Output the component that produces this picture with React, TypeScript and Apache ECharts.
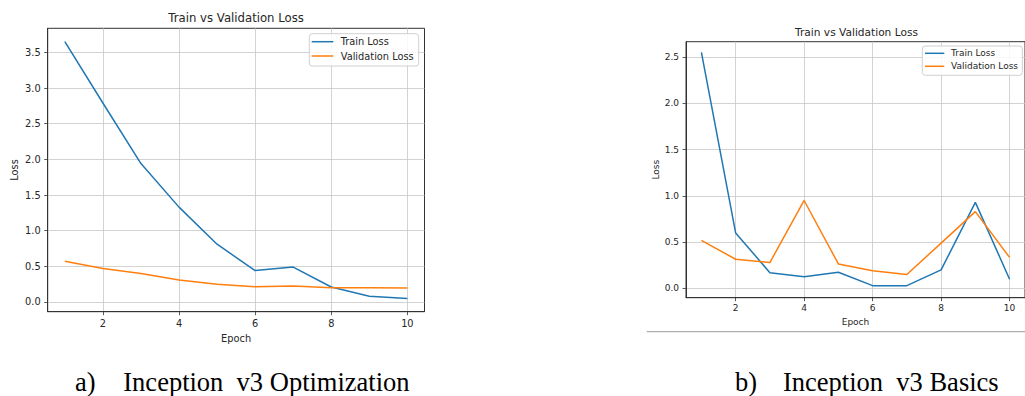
import React, { useEffect, useRef } from "react";
import * as echarts from "echarts";

// ---- data ----
const epochs = [1, 2, 3, 4, 5, 6, 7, 8, 9, 10];
const trainLossA = [3.65, 2.79, 1.94, 1.33, 0.81, 0.44, 0.49, 0.21, 0.08, 0.05];
const valLossA = [0.57, 0.47, 0.4, 0.31, 0.25, 0.215, 0.225, 0.2, 0.2, 0.195];
const trainLossB = [2.55, 0.6, 0.17, 0.125, 0.175, 0.03, 0.03, 0.2, 0.93, 0.1];
const valLossB = [0.52, 0.315, 0.28, 0.95, 0.265, 0.19, 0.15, 0.49, 0.83, 0.335];
const xTicks = [2, 4, 6, 8, 10];
const yTicksA = [0, 0.5, 1, 1.5, 2, 2.5, 3, 3.5];
const yTicksB = [0, 0.5, 1, 1.5, 2, 2.5];
const seriesNames = ["Train Loss", "Validation Loss"];
const chartTitle = "Train vs Validation Loss";
const xName = "Epoch";
const yName = "Loss";
const captionLabels = ["a)", "b)"];
const captionTexts = ["Inception  v3 Optimization", "Inception  v3 Basics"];

const FONT = "DejaVu Sans";
const SERIF = "Liberation Serif";
const TXT = "#262626";
const FRAME = "#333333";
const GRIDC = "#c8c8c8";
const BLUE = "#1f77b4";
const ORANGE = "#ff7f0e";

const pairs = (ys: number[]) => epochs.map((e, i) => [e, ys[i]]);

function xAxisCfg(gridIndex: number, fs: number, margin: number, nameGap: number) {
  return {
    type: "value",
    gridIndex,
    min: 0.55,
    max: 10.45,
    name: xName,
    nameLocation: "middle",
    nameGap,
    nameTextStyle: { fontFamily: FONT, fontSize: fs, color: TXT },
    axisLine: { show: true, onZero: false, lineStyle: { color: FRAME, width: 1 } },
    axisTick: { show: true, length: 3.5, customValues: xTicks, lineStyle: { color: FRAME, width: 0.8 } },
    axisLabel: {
      customValues: xTicks,
      margin,
      fontFamily: FONT,
      fontSize: fs,
      color: TXT,
      formatter: (v: number) => String(v),
    },
    splitLine: { show: true, lineStyle: { color: GRIDC, width: 0.8 } },
  };
}

function yAxisCfg(gridIndex: number, min: number, max: number, ticks: number[], fs: number, margin: number, nameGap: number) {
  return {
    type: "value",
    gridIndex,
    min,
    max,
    name: yName,
    nameLocation: "middle",
    nameGap,
    nameRotate: 90,
    nameTextStyle: { fontFamily: FONT, fontSize: fs, color: TXT },
    axisLine: { show: true, onZero: false, lineStyle: { color: FRAME, width: 1 } },
    axisTick: { show: true, length: 3.5, customValues: ticks, lineStyle: { color: FRAME, width: 0.8 } },
    axisLabel: {
      customValues: ticks,
      margin,
      fontFamily: FONT,
      fontSize: fs,
      color: TXT,
      formatter: (v: number) => v.toFixed(1),
    },
    splitLine: { show: true, lineStyle: { color: GRIDC, width: 0.8 } },
  };
}

function legendCfg(left: number, top: number, fs: number, iw: number, lh: number, gap: number, padding: number[], textPad: number) {
  return {
    show: true,
    orient: "vertical",
    left,
    top,
    icon: "rect",
    itemWidth: iw,
    itemHeight: 1.5,
    itemGap: gap,
    padding,
    selectedMode: false,
    backgroundColor: "rgba(255,255,255,0.85)",
    borderColor: "#d0d0d0",
    borderWidth: 1,
    borderRadius: 3,
    data: seriesNames,
    textStyle: { fontFamily: FONT, fontSize: fs, color: TXT, lineHeight: lh, padding: [0, 0, 0, textPad] },
  };
}

function lineSeries(name: string, color: string, idx: number, ys: number[]) {
  return {
    type: "line",
    name,
    xAxisIndex: idx,
    yAxisIndex: idx,
    data: pairs(ys),
    showSymbol: false,
    symbol: "none",
    lineStyle: { color, width: 1.5 },
    itemStyle: { color },
    z: 3,
  };
}

function captionText(x: number, text: string) {
  return {
    type: "text",
    x,
    y: 395.5,
    style: { text, fontFamily: SERIF, fontSize: 26.5, lineHeight: 26.5, fill: "#000", verticalAlign: "bottom" },
  };
}

export default function App() {
  const ref = useRef<HTMLDivElement>(null);
  useEffect(() => {
    if (!ref.current) return;
    const chart = echarts.init(ref.current, null, { renderer: "svg" });
    const option: any = {
      animation: false,
      backgroundColor: "#ffffff",
      grid: [
        { left: 47.7, top: 28.3, width: 376.8, height: 283.4, show: true, borderColor: FRAME, borderWidth: 1, containLabel: false },
        { left: 686, top: 41.7, width: 341.1, height: 256, show: true, borderColor: FRAME, borderWidth: 1, containLabel: false },
      ],
      xAxis: [xAxisCfg(0, 9.8, 7, 20), xAxisCfg(1, 9, 5.5, 18.5)],
      yAxis: [
        yAxisCfg(0, -0.136, 3.837, yTicksA, 9.8, 7, 28),
        yAxisCfg(1, -0.1, 2.665, yTicksB, 9, 7, 25),
      ],
      legend: [
        legendCfg(309.3, 33.7, 9.8, 21.6, 12, 2.3, [2, 5, 4, 2.4], 2.4),
        legendCfg(922.3, 46, 9, 19.3, 11, 2, [1.8, 4.3, 3.5, 2.7], 1.7),
      ],
      series: [
        lineSeries(seriesNames[0], BLUE, 0, trainLossA),
        lineSeries(seriesNames[1], ORANGE, 0, valLossA),
        lineSeries(seriesNames[0], BLUE, 1, trainLossB),
        lineSeries(seriesNames[1], ORANGE, 1, valLossB),
      ],
      graphic: [
        {
          type: "text",
          x: 236.1,
          y: 18.3,
          style: { text: chartTitle, align: "center", verticalAlign: "middle", fontFamily: FONT, fontSize: 11.7, fill: TXT },
        },
        {
          type: "text",
          x: 856.5,
          y: 32.3,
          style: { text: chartTitle, align: "center", verticalAlign: "middle", fontFamily: FONT, fontSize: 10.6, fill: TXT },
        },
        {
          type: "line",
          shape: { x1: 646.7, y1: 331.7, x2: 1025, y2: 331.7 },
          style: { stroke: "#9a9a9a", lineWidth: 1 },
        },
        captionText(75, captionLabels[0]),
        captionText(123.3, captionTexts[0]),
        captionText(735, captionLabels[1]),
        captionText(783, captionTexts[1]),
      ],
    };
    chart.setOption(option);
    return () => chart.dispose();
  }, []);
  return (
    <div
      ref={ref}
      style={{ position: "fixed", left: 0, top: 0, width: 1025, height: 396, background: "#ffffff", overflow: "hidden" }}
    />
  );
}
